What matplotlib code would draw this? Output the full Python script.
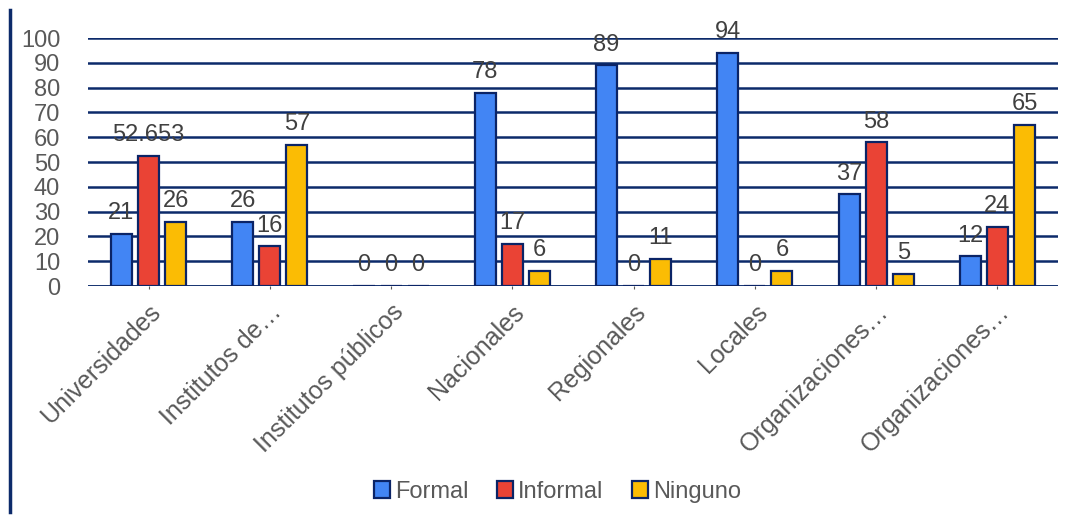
import matplotlib
matplotlib.use("Agg")
import matplotlib.pyplot as plt
import numpy as np
from matplotlib.lines import Line2D

categories = ["Universidades", "Institutos de…", "Institutos públicos", "Nacionales",
              "Regionales", "Locales", "Organizaciones…", "Organizaciones…"]
formal = [21, 26, 0, 78, 89, 94, 37, 12]
informal = [52.653, 16, 0, 17, 0, 0, 58, 24]
ninguno = [26, 57, 0, 6, 11, 6, 5, 65]
series_names = ["Formal", "Informal", "Ninguno"]
yticks = [0, 10, 20, 30, 40, 50, 60, 70, 80, 90, 100]

colors = ["#4285F4", "#EA4335", "#FBBC04"]
edge = "#0B2466"
grid_c = "#0C2A6A"
text_c = "#595959"
label_c = "#404040"

plt.rcParams['font.family'] = ['Liberation Sans', 'DejaVu Sans']

fig = plt.figure(figsize=(10.72, 5.22), dpi=100)
ax = fig.add_axes([0.082, 0.452, 0.905, 0.475])

x = np.arange(len(categories))
pitch = 0.223
width = 0.174
for i, (vals, name, c) in enumerate(zip([formal, informal, ninguno], series_names, colors)):
    pos = x + (i - 1) * pitch
    ax.bar(pos, vals, width=width, color=c, edgecolor=edge, linewidth=1.6,
           label=name, zorder=3)
    for p, v in zip(pos, vals):
        lbl = f"{v:g}"
        ax.annotate(lbl, (p, v), xytext=(0, 7), textcoords="offset points",
                    ha="center", va="bottom", fontsize=17, color=label_c,
                    annotation_clip=False, zorder=4)

ax.set_xlim(-0.5, len(categories) - 0.5)
ax.set_ylim(0, 100)
ax.set_yticks(yticks)
ax.set_yticklabels([str(t) for t in yticks], fontsize=17, color=text_c)
ax.yaxis.grid(True, color=grid_c, linewidth=1.8, zorder=0)
ax.set_axisbelow(True)
ax.set_xticks(x)
ax.set_xticklabels(categories, rotation=45, ha="right", rotation_mode="anchor",
                   fontsize=18, color=text_c)
ax.tick_params(axis="y", length=0, pad=20)
ax.tick_params(axis="x", length=2, color=text_c, pad=8)
for s in ax.spines.values():
    s.set_visible(False)
ax.axhline(0, color=grid_c, linewidth=1.8, zorder=2)

fig.add_artist(Line2D([0.0093, 0.0093], [0.02, 0.98], color=grid_c, linewidth=2.5,
                      transform=fig.transFigure))

leg = fig.legend(loc="center", bbox_to_anchor=(0.52, 0.058), ncol=3, frameon=False,
                 fontsize=17, handlelength=0.7, handleheight=0.7, handletextpad=0.2,
                 columnspacing=1.2, labelcolor=text_c)

fig.savefig("out.png", dpi=100)
